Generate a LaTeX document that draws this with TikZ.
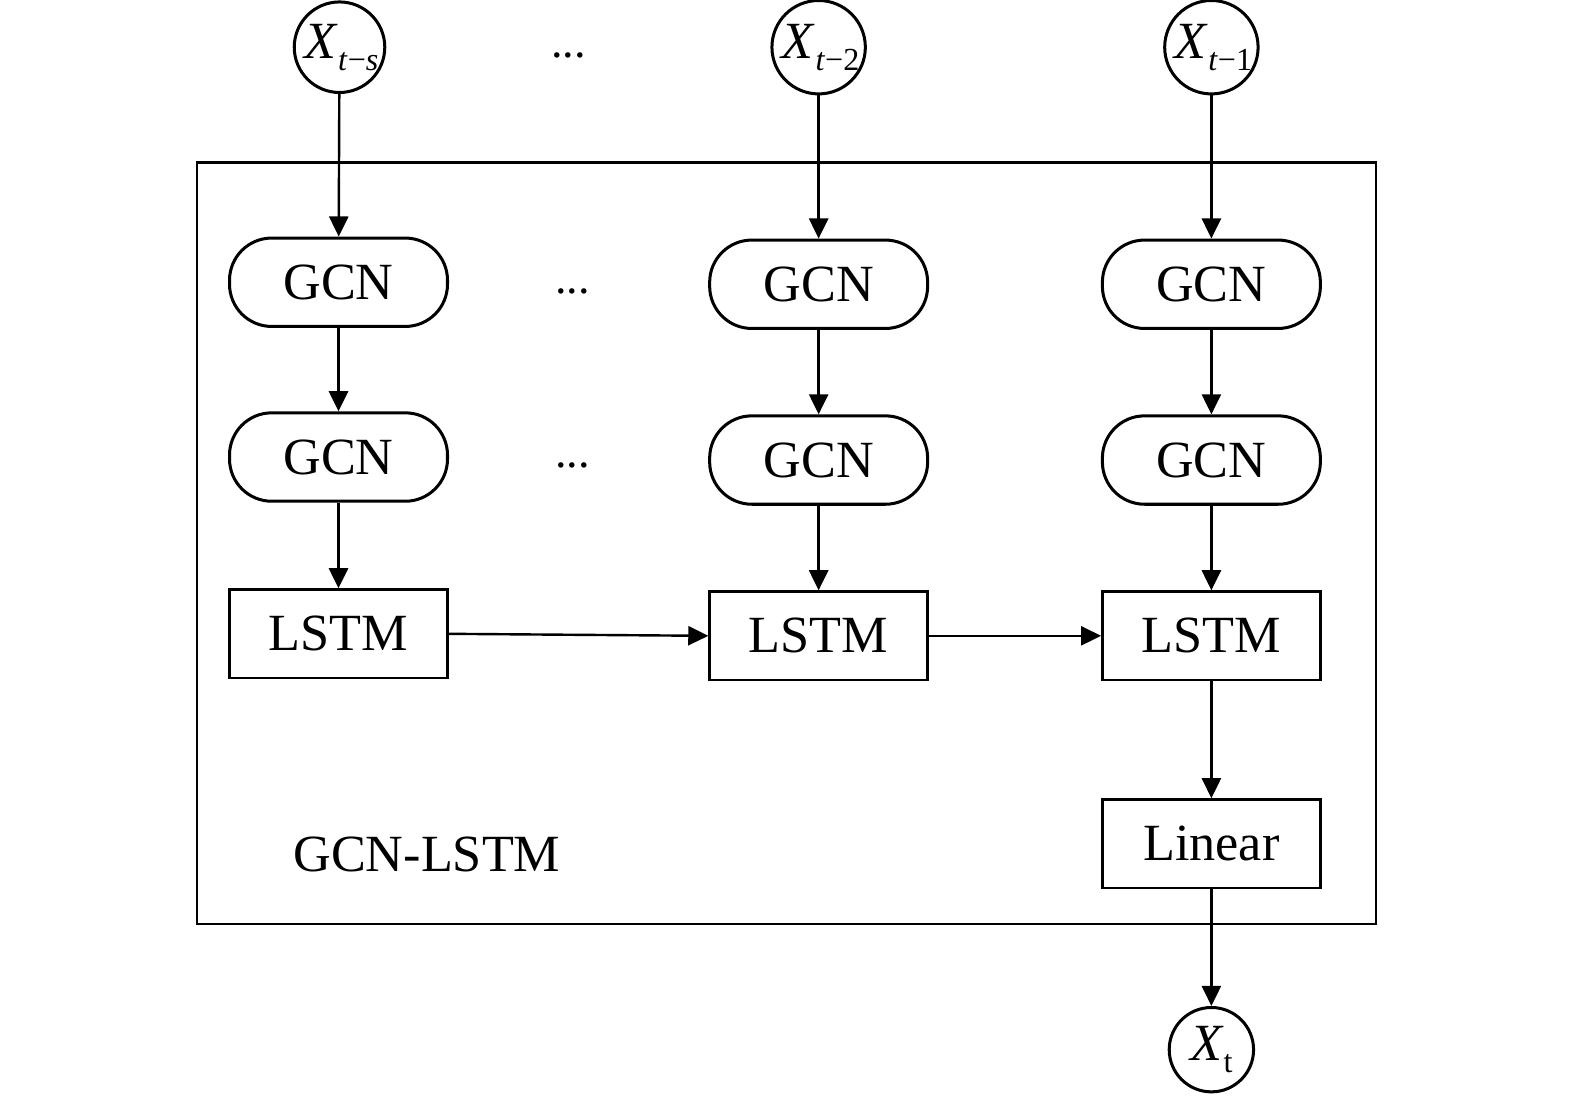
\documentclass[tikz,border=0pt]{standalone}
\usepackage{fontspec}
\setmainfont{Liberation Serif}
\usetikzlibrary{arrows.meta}
\begin{document}
\begin{tikzpicture}[x=1pt,y=-1pt,
  every node/.style={font=\fontsize{52}{60}\selectfont},
  gcnbox/.style={draw,line width=3pt,rounded corners=42pt,minimum width=217pt,minimum height=88pt,inner sep=0pt},
  sqbox/.style={draw,line width=2.6pt,minimum width=217pt,minimum height=88pt,inner sep=0pt},
  xcirc/.style={draw,circle,line width=3pt,minimum size=84pt,inner sep=0pt},
  conn/.style={line width=2.4pt,-{Triangle[length=20pt,width=19pt]}},
  dotsty/.style={font=\fontsize{46}{50}\selectfont}]
\useasboundingbox (0,0) rectangle (1568,1091);
\newcommand{\subsz}{\fontsize{32}{36}\selectfont}
% outer frame
\node[draw,line width=2.6pt,minimum width=1174pt,minimum height=758pt,inner sep=0pt] (frame) at (783,541) {};
% inputs
\node[xcirc] (x1) at (338,47) {\kern4pt\textit{X}\raisebox{-12pt}{\subsz\textit{t}−\textit{s}}};
\node[xcirc] (x2) at (815,47) {\kern4pt\textit{X}\raisebox{-12pt}{\subsz\textit{t}−2}};
\node[xcirc] (x3) at (1206,47) {\kern4pt\textit{X}\raisebox{-12pt}{\subsz\textit{t}−1}};
\node[dotsty] (d0) at (566,55) {...};
% GCN row 1
\node[gcnbox] (g11) at (337,281) {GCN};
\node[gcnbox] (g12) at (815,283) {GCN};
\node[gcnbox] (g13) at (1206,283) {GCN};
\node[dotsty] (d1) at (570,290) {...};
% GCN row 2
\node[gcnbox] (g21) at (337,455) {GCN};
\node[gcnbox] (g22) at (815,458) {GCN};
\node[gcnbox] (g23) at (1206,458) {GCN};
\node[dotsty] (d2) at (570,463) {...};
% LSTM
\node[sqbox] (l1) at (337,631) {LSTM};
\node[sqbox] (l2) at (815,633) {LSTM};
\node[sqbox] (l3) at (1206,633) {LSTM};
% Linear
\node[sqbox] (lin) at (1206,840) {Linear};
% output
\node[xcirc] (xt) at (1206,1045) {\textit{X}\raisebox{-12pt}{\subsz t}};
% label
\node (lab) at (425,851) {GCN-LSTM};
% connectors
\draw[conn] (x1) -- (g11);
\draw[conn] (x2) -- (g12);
\draw[conn] (x3) -- (g13);
\draw[conn] (g11) -- (g21);
\draw[conn] (g12) -- (g22);
\draw[conn] (g13) -- (g23);
\draw[conn] (g21) -- (l1);
\draw[conn] (g22) -- (l2);
\draw[conn] (g23) -- (l3);
\draw[conn] (l1.east) -- (l2.west);
\draw[conn] (l2) -- (l3);
\draw[conn] (l3) -- (lin);
\draw[conn] (lin) -- (xt);
\end{tikzpicture}
\end{document}
